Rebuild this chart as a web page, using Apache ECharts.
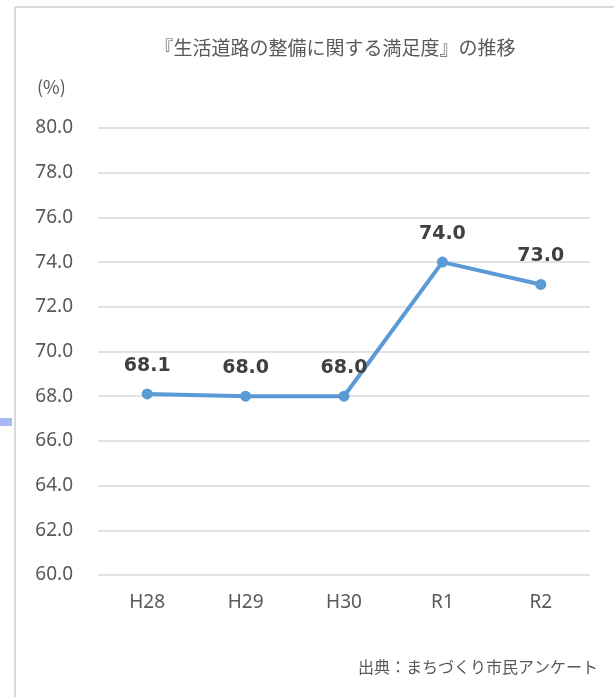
<!DOCTYPE html>
<html><head><meta charset="utf-8">
<script src="https://cdn.jsdelivr.net/npm/echarts@6/dist/echarts.min.js"></script>
<style>html,body{margin:0;padding:0;background:#fff}#c{width:614px;height:697px}</style>
</head><body><div id="c"></div>
<script>
const categories = ['H28', 'H29', 'H30', 'R1', 'R2'];
const satisfaction = [68.1, 68.0, 68.0, 74.0, 73.0];
const titleText = '『生活道路の整備に関する満足度』の推移';
const unitText = '(%)';
const sourceText = '出典：まちづくり市民アンケート';

const chart = echarts.init(document.getElementById('c'));
chart.setOption({
  animation: false,
  backgroundColor: '#fff',
  title: {
    text: titleText, left: 330, top: 33, textAlign: 'center',
    textStyle: { fontFamily: 'Noto Sans CJK JP', fontSize: 19, fontWeight: 'normal', color: '#595959' }
  },
  graphic: [
    { type: 'line', shape: { x1: 15, y1: 7, x2: 614, y2: 7 }, style: { stroke: '#d9d9d9', lineWidth: 2 } },
    { type: 'line', shape: { x1: 15, y1: 7, x2: 15, y2: 697 }, style: { stroke: '#d9d9d9', lineWidth: 2 } },
    { type: 'rect', shape: { x: 0, y: 418, width: 12, height: 8 }, style: { fill: '#aab8f2' } },
    { type: 'text', left: 37, top: 78, style: { text: unitText, font: '18px "Noto Sans CJK JP"', fill: '#595959' } },
    { type: 'text', right: 16, top: 659, style: { text: sourceText, font: '16px "Noto Sans CJK JP"', fill: '#595959' } }
  ],
  grid: { left: 98, right: 24, top: 128, bottom: 122 },
  xAxis: {
    type: 'category', data: categories,
    axisLine: { show: false }, axisTick: { show: false },
    axisLabel: { color: '#595959', fontSize: 19, fontFamily: 'Noto Sans', margin: 18 }
  },
  yAxis: {
    type: 'value', min: 60, max: 80, interval: 2,
    axisLine: { show: false }, axisTick: { show: false },
    axisLabel: { color: '#595959', fontSize: 19, fontFamily: 'Noto Sans', margin: 25, formatter: v => v.toFixed(1) },
    splitLine: { lineStyle: { color: '#d9d9d9', width: 1.5 } }
  },
  series: [{
    type: 'line', data: satisfaction,
    symbol: 'circle', symbolSize: 11,
    lineStyle: { color: '#5b9bd5', width: 4 },
    itemStyle: { color: '#5b9bd5' },
    label: {
      show: true, position: 'top', distance: 13,
      formatter: p => p.value.toFixed(1),
      fontFamily: 'DejaVu Sans', fontWeight: 'bold', fontSize: 19, color: '#404040'
    }
  }]
});
</script></body></html>
